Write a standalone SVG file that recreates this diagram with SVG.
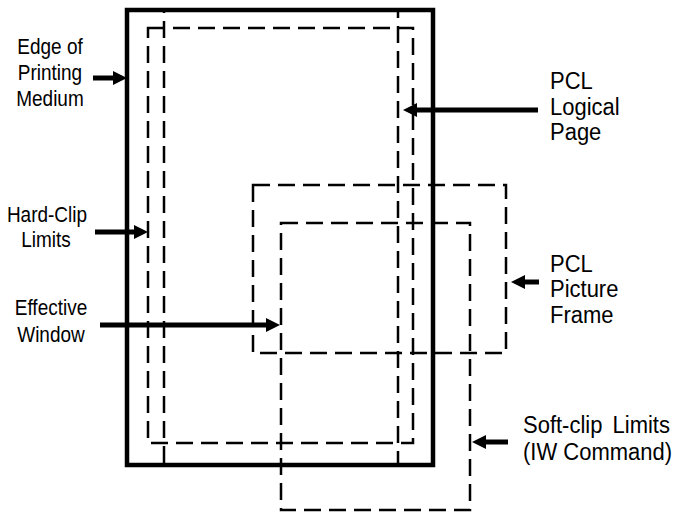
<svg xmlns="http://www.w3.org/2000/svg" width="690" height="515" viewBox="0 0 690 515">
<style>
.solid{fill:none;stroke:#000;stroke-width:4.5}
.dash{fill:none;stroke:#000;stroke-width:2.5;stroke-dasharray:17 8}
.arr{stroke:#000;stroke-width:5;marker-end:url(#ah)}
.lbl{font-family:"Liberation Sans",Arial,Helvetica,sans-serif;font-size:19px;fill:#000;text-anchor:middle}
.rlbl{font-family:"Liberation Sans",Arial,Helvetica,sans-serif;font-size:22px;fill:#000}
</style>
<defs>
<marker id="ah" markerUnits="userSpaceOnUse" markerWidth="16" markerHeight="16" refX="2" refY="8" orient="auto" viewBox="0 0 16 16">
<path d="M0,1 L14,8 L0,15 z" fill="#000"/>
</marker>
</defs>
<rect width="690" height="515" fill="#fff"/>
<g id="logical-page"><rect class="dash" x="164" y="10" width="234" height="455"/></g>
<g id="hard-clip"><rect class="dash" x="148" y="28" width="265" height="415"/></g>
<g id="picture-frame"><rect class="dash" x="253" y="185" width="253" height="168"/></g>
<g id="soft-clip"><rect class="dash" x="281" y="223" width="189" height="287"/></g>
<g id="medium"><rect class="solid" x="127" y="10" width="306" height="455"/></g>
<g id="connectors">
<line class="arr" x1="93" y1="78" x2="115" y2="78"/>
<line class="arr" x1="95" y1="232" x2="136" y2="232"/>
<line class="arr" x1="100" y1="325" x2="268" y2="325"/>
<line class="arr" x1="538" y1="110" x2="415" y2="110"/>
<line class="arr" x1="539" y1="282" x2="523" y2="282"/>
<line class="arr" x1="508" y1="442" x2="484" y2="442"/>
</g>
<g id="label-edge" transform="translate(0,80) scale(1,1.12) translate(0,-80)">
<text class="lbl" x="50" y="56.8">Edge of</text>
<text class="lbl" x="50" y="80">Printing</text>
<text class="lbl" x="50" y="103.2">Medium</text>
</g>
<g id="label-hardclip" transform="translate(0,234.5) scale(1,1.12) translate(0,-234.5)">
<text class="lbl" x="47" y="223.3">Hard-Clip</text>
<text class="lbl" x="46" y="245.7">Limits</text>
</g>
<g id="label-window" transform="translate(0,328.5) scale(1,1.12) translate(0,-328.5)">
<text class="lbl" x="51" y="316.5">Effective</text>
<text class="lbl" x="51" y="340.5">Window</text>
</g>
<g id="label-logical" transform="translate(0,115) scale(1,1.12) translate(0,-115)">
<text class="rlbl" x="550" y="91.8">PCL</text>
<text class="rlbl" x="550" y="115">Logical</text>
<text class="rlbl" x="550" y="137.3">Page</text>
</g>
<g id="label-picture" transform="translate(0,297) scale(1,1.12) translate(0,-297)">
<text class="rlbl" x="550" y="274.7">PCL</text>
<text class="rlbl" x="550" y="297">Picture</text>
<text class="rlbl" x="550" y="320.2">Frame</text>
</g>
<g id="label-softclip" transform="translate(0,446.5) scale(1,1.12) translate(0,-446.5)">
<text class="rlbl" x="523" y="434.5" style="word-spacing:4px">Soft-clip Limits</text>
<text class="rlbl" x="523" y="458.5">(IW Command)</text>
</g>
</svg>
